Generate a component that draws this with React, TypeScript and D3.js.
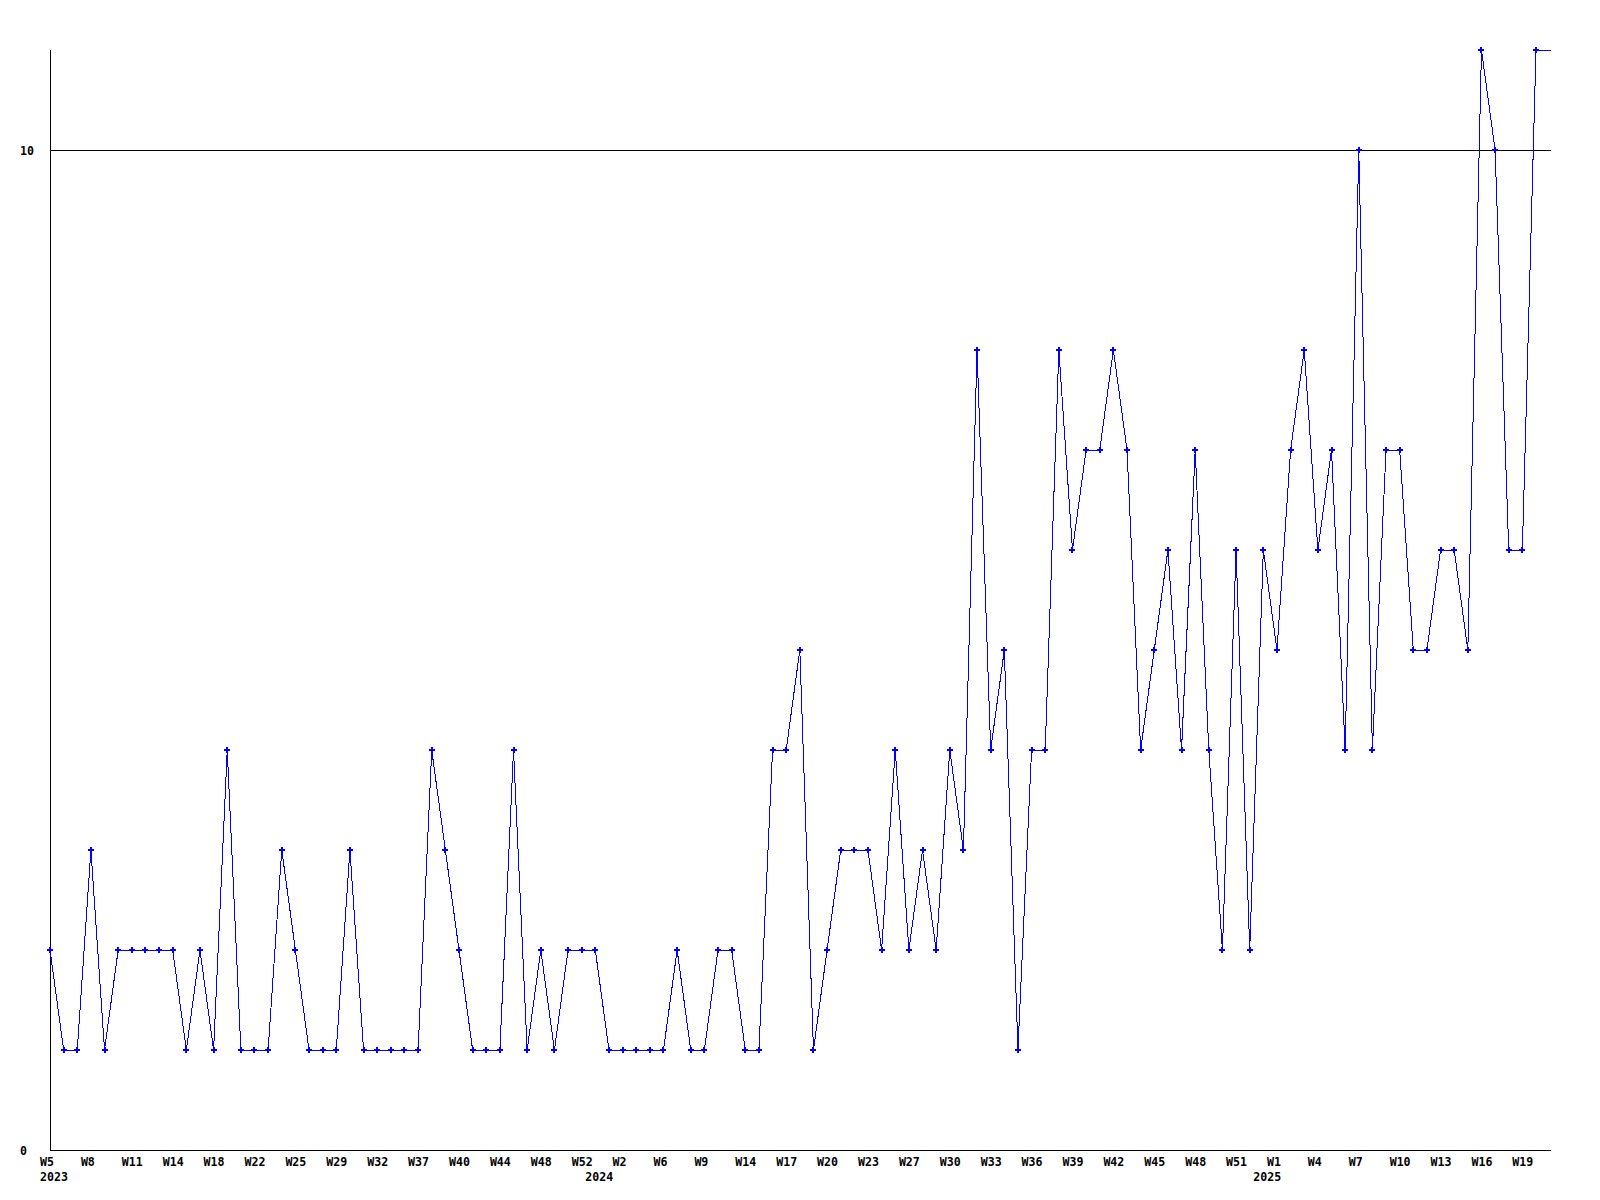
import * as d3 from "d3";

// weekly counts, one per plotted week (gaps in the data are simply skipped)
const values = [
  2, 1, 1, 3, 1, 2, 2, 2, 2, 2,
  1, 2, 1, 4, 1, 1, 1, 3, 2, 1,
  1, 1, 3, 1, 1, 1, 1, 1, 4, 3,
  2, 1, 1, 1, 4, 1, 2, 1, 2, 2,
  2, 1, 1, 1, 1, 1, 2, 1, 1, 2,
  2, 1, 1, 4, 4, 5, 1, 2, 3, 3,
  3, 2, 4, 2, 3, 2, 4, 3, 8, 4,
  5, 1, 4, 4, 8, 6, 7, 7, 8, 7,
  4, 5, 6, 4, 7, 4, 2, 6, 2, 6,
  5, 7, 8, 6, 7, 4, 10, 4, 7, 7,
  5, 5, 6, 6, 5, 11, 10, 6, 6, 11,
];

// one label every 3rd point
const weekLabels = [
  "W5", "W8", "W11", "W14", "W18", "W22", "W25", "W29", "W32", "W37", "W40", "W44", "W48", "W52",
  "W2", "W6", "W9", "W14", "W17", "W20", "W23", "W27", "W30", "W33", "W36", "W39", "W42", "W45", "W48", "W51",
  "W1", "W4", "W7", "W10", "W13", "W16", "W19",
];
const labelStep = 3;

const yearLabels = ["2023", "2024", "2025"];
const yearStarts = [0, 40, 89];

const yTicks = [0, 10];

const W = 1600;
const H = 1200;
const margin = { top: 50, right: 49, bottom: 50, left: 50 };
const font = "'DejaVu Sans Mono', monospace";

export default function App() {
  const n = values.length;
  const x = d3.scaleLinear()
    .domain([0, n - 1])
    .range([margin.left, 1536]);
  const y = d3.scaleLinear()
    .domain([0, 11])
    .range([H - margin.bottom, margin.top]);

  const pts: [number, number][] = values.map((v, i) => [x(i), y(v)]);
  const xRight = W - margin.right;
  // the last value is carried on to the right edge
  const linePts = [...pts, [xRight, y(values[n - 1])] as [number, number]];
  const line = d3.line()(linePts) || "";
  const marker = d3.symbol(d3.symbolCross, 20)() || "";

  const x0 = x(0);
  const y0 = y(0);

  return (
    <svg width={W} height={H} style={{ position: "absolute", left: 0, top: 0, background: "#fff" }}>
      {/* gridline */}
      {yTicks.filter(t => t > 0).map(t => (
        <line key={t} x1={x0} x2={xRight} y1={y(t) + 0.5} y2={y(t) + 0.5} stroke="#000" shapeRendering="crispEdges" />
      ))}
      {/* axes */}
      <line x1={x0 + 0.5} x2={x0 + 0.5} y1={margin.top} y2={y0} stroke="#000" shapeRendering="crispEdges" />
      <line x1={x0} x2={xRight} y1={y0 + 0.5} y2={y0 + 0.5} stroke="#000" shapeRendering="crispEdges" />

      {yTicks.map(t => (
        <text key={t} x={20} y={y(t) + 4.5} fontFamily={font} fontWeight="bold" fontSize={11.6} fill="#000">
          {t}
        </text>
      ))}

      {weekLabels.map((l, k) => (
        <text key={k} x={x(k * labelStep) - 10} y={1166} fontFamily={font} fontWeight="bold" fontSize={11.6} fill="#000">
          {l}
        </text>
      ))}
      {yearLabels.map((l, k) => (
        <text key={l} x={x(yearStarts[k]) - 10} y={1181} fontFamily={font} fontWeight="bold" fontSize={11.6} fill="#000">
          {l}
        </text>
      ))}

      <path d={line} fill="none" stroke="#0000ff" strokeWidth={1} shapeRendering="crispEdges" />
      {pts.map(([px, py], i) => (
        <path key={i} d={marker} transform={`translate(${px},${py})`} fill="#0000ff" shapeRendering="crispEdges" />
      ))}
    </svg>
  );
}
